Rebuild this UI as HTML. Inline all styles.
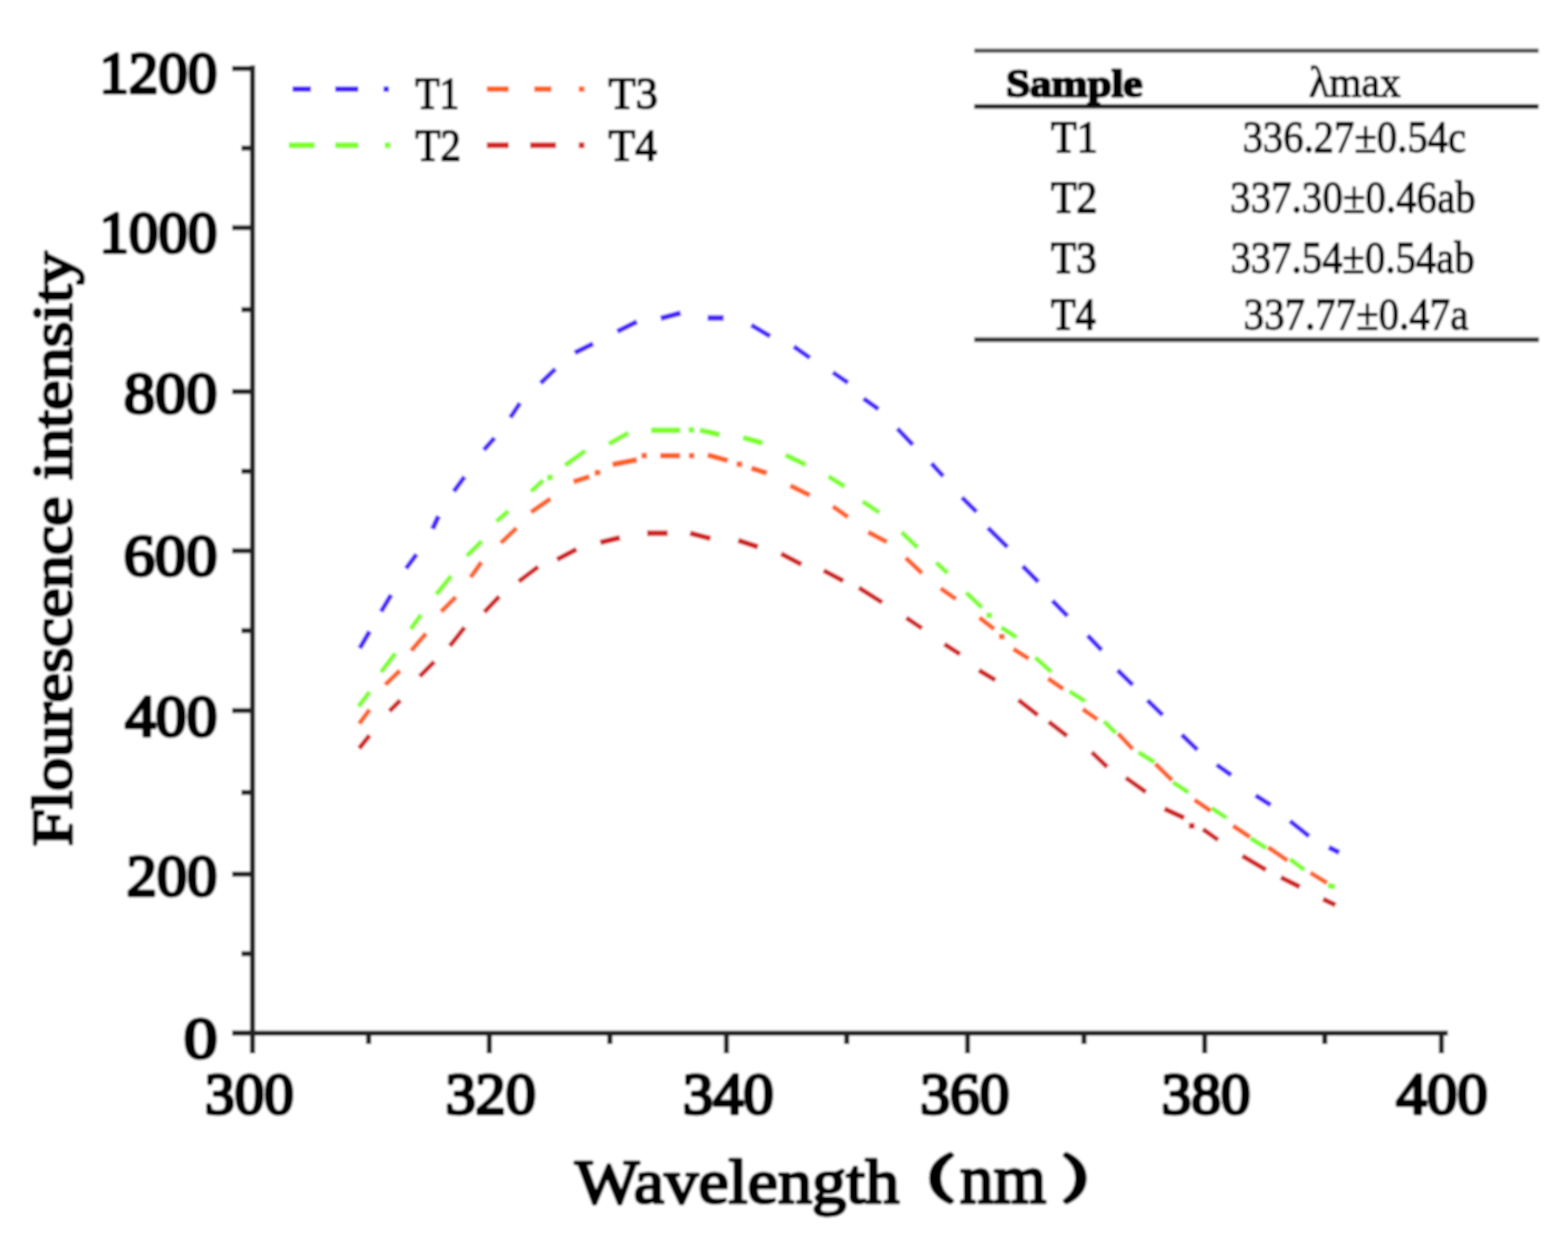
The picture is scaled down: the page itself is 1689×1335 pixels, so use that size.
<!DOCTYPE html>
<html><head><meta charset="utf-8"><title>Fluorescence spectra</title>
<style>html,body{margin:0;padding:0;background:#fff;}svg{display:block;}</style></head>
<body><svg width="1689" height="1335" viewBox="0 0 1689 1335">
<defs><filter id="soft" x="0" y="0" width="1689" height="1335" filterUnits="userSpaceOnUse"><feGaussianBlur stdDeviation="1.0"/></filter></defs>
<rect width="1689" height="1335" fill="#fff"/>
<g filter="url(#soft)">
<rect width="1689" height="1335" fill="#fff"/>
<line x1="272.0" y1="70.5" x2="272.0" y2="1135" stroke="#222222" stroke-width="5.5"/>
<line x1="250" y1="1113.3" x2="1559.5" y2="1113.3" stroke="#222222" stroke-width="5.5"/>
<line x1="250" y1="1113.3" x2="272.0" y2="1113.3" stroke="#222222" stroke-width="5.5"/>
<line x1="260" y1="1027.6" x2="272.0" y2="1027.6" stroke="#222222" stroke-width="5.5"/>
<line x1="250" y1="941.9" x2="272.0" y2="941.9" stroke="#222222" stroke-width="5.5"/>
<line x1="260" y1="853.8" x2="272.0" y2="853.8" stroke="#222222" stroke-width="5.5"/>
<line x1="250" y1="765.6" x2="272.0" y2="765.6" stroke="#222222" stroke-width="5.5"/>
<line x1="260" y1="679.5" x2="272.0" y2="679.5" stroke="#222222" stroke-width="5.5"/>
<line x1="250" y1="593.5" x2="272.0" y2="593.5" stroke="#222222" stroke-width="5.5"/>
<line x1="260" y1="507.7" x2="272.0" y2="507.7" stroke="#222222" stroke-width="5.5"/>
<line x1="250" y1="421.9" x2="272.0" y2="421.9" stroke="#222222" stroke-width="5.5"/>
<line x1="260" y1="333.6" x2="272.0" y2="333.6" stroke="#222222" stroke-width="5.5"/>
<line x1="250" y1="245.4" x2="272.0" y2="245.4" stroke="#222222" stroke-width="5.5"/>
<line x1="260" y1="159.6" x2="272.0" y2="159.6" stroke="#222222" stroke-width="5.5"/>
<line x1="250" y1="73.8" x2="272.0" y2="73.8" stroke="#222222" stroke-width="5.5"/>
<line x1="397.1" y1="1113.3" x2="397.1" y2="1125" stroke="#222222" stroke-width="5.5"/>
<line x1="527.1" y1="1113.3" x2="527.1" y2="1135" stroke="#222222" stroke-width="5.5"/>
<line x1="656.9" y1="1113.3" x2="656.9" y2="1125" stroke="#222222" stroke-width="5.5"/>
<line x1="782.5" y1="1113.3" x2="782.5" y2="1135" stroke="#222222" stroke-width="5.5"/>
<line x1="912.1" y1="1113.3" x2="912.1" y2="1125" stroke="#222222" stroke-width="5.5"/>
<line x1="1042.3" y1="1113.3" x2="1042.3" y2="1135" stroke="#222222" stroke-width="5.5"/>
<line x1="1167.6" y1="1113.3" x2="1167.6" y2="1125" stroke="#222222" stroke-width="5.5"/>
<line x1="1297.6" y1="1113.3" x2="1297.6" y2="1135" stroke="#222222" stroke-width="5.5"/>
<line x1="1427.0" y1="1113.3" x2="1427.0" y2="1125" stroke="#222222" stroke-width="5.5"/>
<line x1="1552.6" y1="1113.3" x2="1552.6" y2="1135" stroke="#222222" stroke-width="5.5"/>
<text x="198.0" y="1139.7" font-family='"Liberation Serif", serif' font-weight="normal" font-size="62.7" textLength="36.2" lengthAdjust="spacingAndGlyphs" fill="#000"  stroke="#000" stroke-width="3.6" stroke-linejoin="round">0</text>
<text x="136.6" y="964.5" font-family='"Liberation Serif", serif' font-weight="normal" font-size="62.7" textLength="97.3" lengthAdjust="spacingAndGlyphs" fill="#000"  stroke="#000" stroke-width="3.6" stroke-linejoin="round">200</text>
<text x="134.8" y="792.8" font-family='"Liberation Serif", serif' font-weight="normal" font-size="62.7" textLength="99.2" lengthAdjust="spacingAndGlyphs" fill="#000"  stroke="#000" stroke-width="3.6" stroke-linejoin="round">400</text>
<text x="133.2" y="620.0" font-family='"Liberation Serif", serif' font-weight="normal" font-size="62.7" textLength="100.8" lengthAdjust="spacingAndGlyphs" fill="#000"  stroke="#000" stroke-width="3.6" stroke-linejoin="round">600</text>
<text x="133.6" y="444.5" font-family='"Liberation Serif", serif' font-weight="normal" font-size="62.7" textLength="100.5" lengthAdjust="spacingAndGlyphs" fill="#000"  stroke="#000" stroke-width="3.6" stroke-linejoin="round">800</text>
<text x="106.9" y="272.3" font-family='"Liberation Serif", serif' font-weight="normal" font-size="62.7" textLength="127.0" lengthAdjust="spacingAndGlyphs" fill="#000"  stroke="#000" stroke-width="3.6" stroke-linejoin="round">1000</text>
<text x="106.9" y="100.0" font-family='"Liberation Serif", serif' font-weight="normal" font-size="62.7" textLength="127.0" lengthAdjust="spacingAndGlyphs" fill="#000"  stroke="#000" stroke-width="3.6" stroke-linejoin="round">1200</text>
<text x="220.7" y="1200.0" font-family='"Liberation Serif", serif' font-weight="normal" font-size="62.7" textLength="95.9" lengthAdjust="spacingAndGlyphs" fill="#000"  stroke="#000" stroke-width="3.6" stroke-linejoin="round">300</text>
<text x="479.9" y="1200.0" font-family='"Liberation Serif", serif' font-weight="normal" font-size="62.7" textLength="97.4" lengthAdjust="spacingAndGlyphs" fill="#000"  stroke="#000" stroke-width="3.6" stroke-linejoin="round">320</text>
<text x="735.5" y="1200.0" font-family='"Liberation Serif", serif' font-weight="normal" font-size="62.7" textLength="97.9" lengthAdjust="spacingAndGlyphs" fill="#000"  stroke="#000" stroke-width="3.6" stroke-linejoin="round">340</text>
<text x="991.2" y="1200.0" font-family='"Liberation Serif", serif' font-weight="normal" font-size="62.7" textLength="96.1" lengthAdjust="spacingAndGlyphs" fill="#000"  stroke="#000" stroke-width="3.6" stroke-linejoin="round">360</text>
<text x="1251.2" y="1200.0" font-family='"Liberation Serif", serif' font-weight="normal" font-size="62.7" textLength="95.9" lengthAdjust="spacingAndGlyphs" fill="#000"  stroke="#000" stroke-width="3.6" stroke-linejoin="round">380</text>
<text x="1504.1" y="1200.0" font-family='"Liberation Serif", serif' font-weight="normal" font-size="62.7" textLength="98.4" lengthAdjust="spacingAndGlyphs" fill="#000"  stroke="#000" stroke-width="3.6" stroke-linejoin="round">400</text>
<text x="619.2" y="1296.0" font-family='"Liberation Serif", serif' font-weight="normal" font-size="67.5" textLength="349.6" lengthAdjust="spacingAndGlyphs" fill="#000"  stroke="#000" stroke-width="3.0" stroke-linejoin="round">Wavelength</text>
<text x="0" y="0" transform="translate(77.2,911.8) rotate(-90)" font-family='"Liberation Serif", serif' font-weight="normal" font-size="61.5" textLength="640.8" lengthAdjust="spacingAndGlyphs" fill="#000" stroke="#000" stroke-width="3.0" stroke-linejoin="round">Flourescence intensity</text>
<text x="1033.8" y="1296.0" font-family='"Liberation Serif", serif' font-weight="normal" font-size="75.4" textLength="93.3" lengthAdjust="spacingAndGlyphs" fill="#000"  stroke="#000" stroke-width="3.0" stroke-linejoin="round">nm</text>
<text x="959.7" y="1289.5" font-family='"Liberation Serif", "Noto Serif CJK SC", serif' font-weight="bold" font-size="54.1" textLength="68.9" lengthAdjust="spacingAndGlyphs" fill="#000"  stroke="#000" stroke-width="5" stroke-linejoin="round">（</text>
<text x="1143.9" y="1289.5" font-family='"Liberation Serif", "Noto Serif CJK SC", serif' font-weight="bold" font-size="54.1" textLength="65.9" lengthAdjust="spacingAndGlyphs" fill="#000"  stroke="#000" stroke-width="5" stroke-linejoin="round">）</text>
<line x1="318.0" y1="96.0" x2="332.0" y2="96.0" stroke="#4822ff" stroke-width="6.0" stroke-linecap="square"/>
<line x1="364.0" y1="96.0" x2="383.0" y2="96.0" stroke="#4822ff" stroke-width="6.0" stroke-linecap="square"/>
<rect x="413.0" y="93.0" width="6.0" height="6.0" fill="#4822ff"/>
<text x="447.6" y="117.3" font-family='"Liberation Serif", serif' font-weight="normal" font-size="47.9" textLength="47.0" lengthAdjust="spacingAndGlyphs" fill="#000"  stroke="#000" stroke-width="1.8" stroke-linejoin="round">T1</text>
<line x1="314.0" y1="156.5" x2="336.0" y2="156.5" stroke="#7cff22" stroke-width="6.0" stroke-linecap="square"/>
<line x1="364.0" y1="156.5" x2="383.0" y2="156.5" stroke="#7cff22" stroke-width="6.0" stroke-linecap="square"/>
<rect x="414.5" y="153.5" width="6.0" height="6.0" fill="#7cff22"/>
<text x="447.6" y="172.8" font-family='"Liberation Serif", serif' font-weight="normal" font-size="49.2" textLength="48.9" lengthAdjust="spacingAndGlyphs" fill="#000"  stroke="#000" stroke-width="1.8" stroke-linejoin="round">T2</text>
<line x1="527.5" y1="96.0" x2="545.0" y2="96.0" stroke="#ff6220" stroke-width="6.0" stroke-linecap="square"/>
<line x1="578.6" y1="96.0" x2="591.0" y2="96.0" stroke="#ff6220" stroke-width="6.0" stroke-linecap="square"/>
<rect x="623.5" y="93.0" width="6.0" height="6.0" fill="#ff6220"/>
<text x="655.5" y="117.3" font-family='"Liberation Serif", serif' font-weight="normal" font-size="47.9" textLength="53.1" lengthAdjust="spacingAndGlyphs" fill="#000"  stroke="#000" stroke-width="1.8" stroke-linejoin="round">T3</text>
<line x1="527.5" y1="156.5" x2="545.0" y2="156.5" stroke="#d02222" stroke-width="6.0" stroke-linecap="square"/>
<line x1="574.0" y1="156.5" x2="596.0" y2="156.5" stroke="#d02222" stroke-width="6.0" stroke-linecap="square"/>
<rect x="623.5" y="153.5" width="6.0" height="6.0" fill="#d02222"/>
<text x="655.6" y="172.8" font-family='"Liberation Serif", serif' font-weight="normal" font-size="49.2" textLength="52.0" lengthAdjust="spacingAndGlyphs" fill="#000"  stroke="#000" stroke-width="1.8" stroke-linejoin="round">T4</text>
<line x1="1049.5" y1="54.6" x2="1657.3" y2="54.6" stroke="#585858" stroke-width="4.6"/>
<line x1="1049.5" y1="114.8" x2="1657.3" y2="114.8" stroke="#1e1e1e" stroke-width="5"/>
<line x1="1049.5" y1="365.9" x2="1657.6" y2="365.9" stroke="#333333" stroke-width="5"/>
<text x="1083.8" y="103.6" font-family='"Liberation Serif", serif' font-weight="bold" font-size="41.3" textLength="146.9" lengthAdjust="spacingAndGlyphs" fill="#000"  stroke="#000" stroke-width="2.5" stroke-linejoin="round">Sample</text>
<text x="1409.9" y="103.6" font-family='"Liberation Serif", serif' font-weight="normal" font-size="45.5" textLength="99.0" lengthAdjust="spacingAndGlyphs" fill="#000"  stroke="#000" stroke-width="1.3" stroke-linejoin="round">λmax</text>
<text x="1132.1" y="164.3" font-family='"Liberation Serif", serif' font-weight="normal" font-size="48.7" textLength="50.2" lengthAdjust="spacingAndGlyphs" fill="#000"  stroke="#000" stroke-width="1.8" stroke-linejoin="round">T1</text>
<text x="1338.4" y="164.3" font-family='"Liberation Serif", serif' font-weight="normal" font-size="48.6" textLength="240.8" lengthAdjust="spacingAndGlyphs" fill="#000"  stroke="#000" stroke-width="1.3" stroke-linejoin="round">336.27±0.54c</text>
<text x="1132.1" y="229.0" font-family='"Liberation Serif", serif' font-weight="normal" font-size="49.0" textLength="50.0" lengthAdjust="spacingAndGlyphs" fill="#000"  stroke="#000" stroke-width="1.8" stroke-linejoin="round">T2</text>
<text x="1325.1" y="229.0" font-family='"Liberation Serif", serif' font-weight="normal" font-size="48.9" textLength="264.5" lengthAdjust="spacingAndGlyphs" fill="#000"  stroke="#000" stroke-width="1.3" stroke-linejoin="round">337.30±0.46ab</text>
<text x="1132.1" y="294.0" font-family='"Liberation Serif", serif' font-weight="normal" font-size="49.0" textLength="49.2" lengthAdjust="spacingAndGlyphs" fill="#000"  stroke="#000" stroke-width="1.8" stroke-linejoin="round">T3</text>
<text x="1325.4" y="294.0" font-family='"Liberation Serif", serif' font-weight="normal" font-size="48.9" textLength="263.1" lengthAdjust="spacingAndGlyphs" fill="#000"  stroke="#000" stroke-width="1.3" stroke-linejoin="round">337.54±0.54ab</text>
<text x="1132.1" y="354.5" font-family='"Liberation Serif", serif' font-weight="normal" font-size="49.0" textLength="48.2" lengthAdjust="spacingAndGlyphs" fill="#000"  stroke="#000" stroke-width="1.8" stroke-linejoin="round">T4</text>
<text x="1339.6" y="354.5" font-family='"Liberation Serif", serif' font-weight="normal" font-size="48.9" textLength="242.1" lengthAdjust="spacingAndGlyphs" fill="#000"  stroke="#000" stroke-width="1.3" stroke-linejoin="round">337.77±0.47a</text>
<line x1="388.8" y1="696.2" x2="396.8" y2="682.6" stroke="#4822ff" stroke-width="5.170127924128787" stroke-linecap="square"/>
<line x1="411.8" y1="656.8" x2="420.0" y2="643.2" stroke="#4822ff" stroke-width="5.144957554275264" stroke-linecap="square"/>
<line x1="438.9" y1="610.5" x2="447.2" y2="599.2" stroke="#4822ff" stroke-width="5.0" stroke-linecap="square"/>
<line x1="467.1" y1="567.5" x2="471.2" y2="558.5" stroke="#4822ff" stroke-width="5.471529031050637" stroke-linecap="square"/>
<line x1="490.3" y1="527.5" x2="498.9" y2="515.7" stroke="#4822ff" stroke-width="5.0" stroke-linecap="square"/>
<line x1="522.9" y1="483.0" x2="531.0" y2="473.7" stroke="#4822ff" stroke-width="5.0" stroke-linecap="square"/>
<line x1="551.1" y1="447.9" x2="558.7" y2="436.4" stroke="#4822ff" stroke-width="5.002083310518597" stroke-linecap="square"/>
<line x1="584.2" y1="411.1" x2="596.4" y2="399.3" stroke="#4822ff" stroke-width="5.0" stroke-linecap="square"/>
<line x1="621.6" y1="378.8" x2="636.4" y2="371.5" stroke="#4822ff" stroke-width="5.377492735779975" stroke-linecap="square"/>
<line x1="667.4" y1="356.0" x2="683.6" y2="347.9" stroke="#4822ff" stroke-width="5.366563145999495" stroke-linecap="square"/>
<line x1="714.6" y1="342.3" x2="730.3" y2="338.0" stroke="#4822ff" stroke-width="5.796052480900054" stroke-linecap="square"/>
<line x1="765.3" y1="342.6" x2="776.4" y2="342.6" stroke="#4822ff" stroke-width="6.0" stroke-linecap="square"/>
<line x1="811.6" y1="351.6" x2="827.3" y2="361.0" stroke="#4822ff" stroke-width="5.151729671413738" stroke-linecap="square"/>
<line x1="857.2" y1="374.8" x2="870.3" y2="384.0" stroke="#4822ff" stroke-width="5.0" stroke-linecap="square"/>
<line x1="899.3" y1="402.7" x2="911.3" y2="411.0" stroke="#4822ff" stroke-width="5.0" stroke-linecap="square"/>
<line x1="932.2" y1="430.9" x2="944.2" y2="439.4" stroke="#4822ff" stroke-width="5.0" stroke-linecap="square"/>
<line x1="968.4" y1="463.6" x2="981.5" y2="477.4" stroke="#4822ff" stroke-width="5.0" stroke-linecap="square"/>
<line x1="1005.1" y1="501.1" x2="1014.3" y2="511.3" stroke="#4822ff" stroke-width="5.0" stroke-linecap="square"/>
<line x1="1038.0" y1="537.8" x2="1050.1" y2="549.7" stroke="#4822ff" stroke-width="5.0" stroke-linecap="square"/>
<line x1="1066.0" y1="570.5" x2="1083.4" y2="587.8" stroke="#4822ff" stroke-width="5.0" stroke-linecap="square"/>
<line x1="1103.4" y1="611.8" x2="1116.7" y2="625.3" stroke="#4822ff" stroke-width="5.0" stroke-linecap="square"/>
<line x1="1135.4" y1="649.1" x2="1148.1" y2="662.0" stroke="#4822ff" stroke-width="5.0" stroke-linecap="square"/>
<line x1="1173.3" y1="686.5" x2="1184.9" y2="698.7" stroke="#4822ff" stroke-width="5.0" stroke-linecap="square"/>
<line x1="1205.7" y1="723.9" x2="1218.3" y2="736.2" stroke="#4822ff" stroke-width="5.0" stroke-linecap="square"/>
<line x1="1237.8" y1="756.2" x2="1250.6" y2="768.8" stroke="#4822ff" stroke-width="5.0" stroke-linecap="square"/>
<line x1="1274.8" y1="793.4" x2="1288.0" y2="806.2" stroke="#4822ff" stroke-width="5.0" stroke-linecap="square"/>
<line x1="1312.6" y1="825.5" x2="1324.2" y2="833.7" stroke="#4822ff" stroke-width="5.0" stroke-linecap="square"/>
<line x1="1354.6" y1="858.4" x2="1366.6" y2="866.1" stroke="#4822ff" stroke-width="5.034917919338867" stroke-linecap="square"/>
<line x1="1391.5" y1="886.2" x2="1408.1" y2="899.4" stroke="#4822ff" stroke-width="5.0" stroke-linecap="square"/>
<line x1="1433.8" y1="914.2" x2="1440.1" y2="917.3" stroke="#4822ff" stroke-width="5.376215049412207" stroke-linecap="square"/>
<line x1="387.7" y1="759.3" x2="396.6" y2="747.6" stroke="#7cff22" stroke-width="5.0" stroke-linecap="square"/>
<line x1="412.0" y1="722.2" x2="424.3" y2="706.0" stroke="#7cff22" stroke-width="5.0" stroke-linecap="square"/>
<line x1="443.9" y1="675.7" x2="452.1" y2="664.4" stroke="#7cff22" stroke-width="5.0" stroke-linecap="square"/>
<line x1="471.7" y1="638.4" x2="484.5" y2="622.4" stroke="#7cff22" stroke-width="5.0" stroke-linecap="square"/>
<line x1="504.6" y1="597.3" x2="517.2" y2="584.9" stroke="#7cff22" stroke-width="5.0" stroke-linecap="square"/>
<line x1="536.7" y1="560.1" x2="545.7" y2="552.2" stroke="#7cff22" stroke-width="5.0" stroke-linecap="square"/>
<line x1="573.9" y1="527.8" x2="583.1" y2="519.4" stroke="#7cff22" stroke-width="5.0" stroke-linecap="square"/>
<rect x="589.4" y="511.5" width="6.0" height="6.0" fill="#7cff22"/>
<line x1="610.7" y1="499.9" x2="628.4" y2="487.2" stroke="#7cff22" stroke-width="5.0" stroke-linecap="square"/>
<line x1="658.2" y1="477.0" x2="674.6" y2="467.8" stroke="#7cff22" stroke-width="5.230783111728756" stroke-linecap="square"/>
<line x1="704.3" y1="463.6" x2="729.8" y2="463.6" stroke="#7cff22" stroke-width="6.0" stroke-linecap="square"/>
<rect x="741.7" y="460.2" width="6.0" height="6.0" fill="#7cff22"/>
<line x1="756.7" y1="464.0" x2="772.1" y2="467.7" stroke="#7cff22" stroke-width="5.830522223665326" stroke-linecap="square"/>
<line x1="803.2" y1="472.2" x2="818.6" y2="476.6" stroke="#7cff22" stroke-width="5.769143685844939" stroke-linecap="square"/>
<line x1="848.6" y1="491.5" x2="865.4" y2="499.6" stroke="#7cff22" stroke-width="5.396207124829572" stroke-linecap="square"/>
<line x1="894.6" y1="514.7" x2="907.6" y2="522.9" stroke="#7cff22" stroke-width="5.097840997188703" stroke-linecap="square"/>
<line x1="931.3" y1="541.7" x2="945.1" y2="550.9" stroke="#7cff22" stroke-width="5.0" stroke-linecap="square"/>
<line x1="973.0" y1="575.1" x2="986.5" y2="588.3" stroke="#7cff22" stroke-width="5.0" stroke-linecap="square"/>
<line x1="1010.2" y1="607.9" x2="1018.9" y2="615.8" stroke="#7cff22" stroke-width="5.0" stroke-linecap="square"/>
<line x1="1042.6" y1="640.2" x2="1055.9" y2="652.9" stroke="#7cff22" stroke-width="5.0" stroke-linecap="square"/>
<rect x="1062.5" y="660.0" width="6.0" height="6.0" fill="#7cff22"/>
<line x1="1080.7" y1="677.5" x2="1092.8" y2="685.2" stroke="#7cff22" stroke-width="5.044052361248293" stroke-linecap="square"/>
<line x1="1117.1" y1="710.0" x2="1130.5" y2="722.3" stroke="#7cff22" stroke-width="5.0" stroke-linecap="square"/>
<line x1="1154.2" y1="746.3" x2="1166.8" y2="754.2" stroke="#7cff22" stroke-width="5.104787984155753" stroke-linecap="square"/>
<line x1="1191.0" y1="779.0" x2="1200.0" y2="787.9" stroke="#7cff22" stroke-width="5.0" stroke-linecap="square"/>
<line x1="1228.5" y1="812.0" x2="1241.3" y2="819.9" stroke="#7cff22" stroke-width="5.121162418218912" stroke-linecap="square"/>
<line x1="1265.6" y1="844.3" x2="1278.2" y2="852.4" stroke="#7cff22" stroke-width="5.033397994858102" stroke-linecap="square"/>
<line x1="1307.1" y1="872.0" x2="1319.0" y2="879.9" stroke="#7cff22" stroke-width="5.0" stroke-linecap="square"/>
<line x1="1349.1" y1="904.4" x2="1361.9" y2="912.6" stroke="#7cff22" stroke-width="5.037420942912907" stroke-linecap="square"/>
<line x1="1391.5" y1="927.3" x2="1403.0" y2="935.8" stroke="#7cff22" stroke-width="5.0" stroke-linecap="square"/>
<line x1="1433.3" y1="954.6" x2="1435.1" y2="955.0" stroke="#7cff22" stroke-width="5.900719131534439" stroke-linecap="square"/>
<line x1="388.4" y1="777.8" x2="396.6" y2="766.7" stroke="#ff6220" stroke-width="5.0" stroke-linecap="square"/>
<line x1="416.8" y1="736.0" x2="428.9" y2="724.4" stroke="#ff6220" stroke-width="5.0" stroke-linecap="square"/>
<line x1="444.6" y1="699.1" x2="457.2" y2="684.5" stroke="#ff6220" stroke-width="5.0" stroke-linecap="square"/>
<line x1="477.0" y1="657.2" x2="489.2" y2="645.1" stroke="#ff6220" stroke-width="5.0" stroke-linecap="square"/>
<line x1="508.4" y1="620.0" x2="517.1" y2="607.8" stroke="#ff6220" stroke-width="5.0" stroke-linecap="square"/>
<line x1="541.3" y1="583.3" x2="554.6" y2="570.7" stroke="#ff6220" stroke-width="5.0" stroke-linecap="square"/>
<line x1="574.1" y1="550.4" x2="590.9" y2="538.8" stroke="#ff6220" stroke-width="5.0" stroke-linecap="square"/>
<line x1="620.5" y1="518.2" x2="632.2" y2="514.5" stroke="#ff6220" stroke-width="5.731038735883727" stroke-linecap="square"/>
<rect x="640.6" y="506.3" width="6.0" height="6.0" fill="#ff6220"/>
<line x1="662.7" y1="500.0" x2="683.1" y2="496.0" stroke="#ff6220" stroke-width="5.885205604528063" stroke-linecap="square"/>
<rect x="690.9" y="487.9" width="6.0" height="6.0" fill="#ff6220"/>
<line x1="714.2" y1="491.0" x2="729.5" y2="491.0" stroke="#ff6220" stroke-width="6.0" stroke-linecap="square"/>
<rect x="742.0" y="488.0" width="6.0" height="6.0" fill="#ff6220"/>
<line x1="765.1" y1="491.1" x2="781.1" y2="495.5" stroke="#ff6220" stroke-width="5.781107457779644" stroke-linecap="square"/>
<rect x="793.5" y="497.2" width="6.0" height="6.0" fill="#ff6220"/>
<line x1="812.1" y1="505.3" x2="823.2" y2="508.9" stroke="#ff6220" stroke-width="5.702382774268129" stroke-linecap="square"/>
<line x1="853.7" y1="524.5" x2="869.9" y2="532.5" stroke="#ff6220" stroke-width="5.376765514730322" stroke-linecap="square"/>
<line x1="899.2" y1="547.1" x2="911.4" y2="555.7" stroke="#ff6220" stroke-width="5.0" stroke-linecap="square"/>
<line x1="937.5" y1="574.6" x2="953.0" y2="582.8" stroke="#ff6220" stroke-width="5.285357539610829" stroke-linecap="square"/>
<line x1="977.5" y1="602.9" x2="991.3" y2="615.9" stroke="#ff6220" stroke-width="5.0" stroke-linecap="square"/>
<line x1="1015.2" y1="635.4" x2="1027.7" y2="644.1" stroke="#ff6220" stroke-width="5.0" stroke-linecap="square"/>
<line x1="1057.0" y1="667.1" x2="1068.8" y2="676.2" stroke="#ff6220" stroke-width="5.0" stroke-linecap="square"/>
<rect x="1076.1" y="683.0" width="6.0" height="6.0" fill="#ff6220"/>
<line x1="1093.8" y1="700.6" x2="1105.9" y2="708.2" stroke="#ff6220" stroke-width="5.058132041167705" stroke-linecap="square"/>
<line x1="1131.0" y1="732.5" x2="1143.3" y2="741.0" stroke="#ff6220" stroke-width="5.0" stroke-linecap="square"/>
<line x1="1168.4" y1="765.6" x2="1180.1" y2="773.8" stroke="#ff6220" stroke-width="5.0" stroke-linecap="square"/>
<line x1="1206.1" y1="792.2" x2="1218.4" y2="805.3" stroke="#ff6220" stroke-width="5.0" stroke-linecap="square"/>
<line x1="1246.3" y1="824.7" x2="1260.7" y2="839.0" stroke="#ff6220" stroke-width="5.0" stroke-linecap="square"/>
<line x1="1288.8" y1="863.3" x2="1301.9" y2="872.2" stroke="#ff6220" stroke-width="5.0" stroke-linecap="square"/>
<line x1="1330.3" y1="891.2" x2="1344.3" y2="900.5" stroke="#ff6220" stroke-width="5.0" stroke-linecap="square"/>
<line x1="1368.1" y1="914.4" x2="1384.8" y2="925.8" stroke="#ff6220" stroke-width="5.0" stroke-linecap="square"/>
<line x1="1413.8" y1="941.8" x2="1427.2" y2="950.1" stroke="#ff6220" stroke-width="5.074987949810078" stroke-linecap="square"/>
<line x1="388.5" y1="804.4" x2="396.5" y2="794.3" stroke="#d02222" stroke-width="5.0" stroke-linecap="square"/>
<line x1="421.3" y1="764.5" x2="429.4" y2="756.4" stroke="#d02222" stroke-width="5.0" stroke-linecap="square"/>
<line x1="453.9" y1="726.9" x2="466.0" y2="714.8" stroke="#d02222" stroke-width="5.0" stroke-linecap="square"/>
<line x1="486.2" y1="694.1" x2="498.9" y2="677.9" stroke="#d02222" stroke-width="5.0" stroke-linecap="square"/>
<line x1="523.5" y1="657.7" x2="536.0" y2="644.6" stroke="#d02222" stroke-width="5.0" stroke-linecap="square"/>
<line x1="560.8" y1="625.0" x2="577.7" y2="612.3" stroke="#d02222" stroke-width="5.0" stroke-linecap="square"/>
<line x1="602.4" y1="601.7" x2="618.6" y2="593.2" stroke="#d02222" stroke-width="5.325375293311461" stroke-linecap="square"/>
<line x1="649.5" y1="583.8" x2="664.9" y2="580.0" stroke="#d02222" stroke-width="5.824103172384943" stroke-linecap="square"/>
<line x1="700.0" y1="574.5" x2="716.2" y2="574.5" stroke="#d02222" stroke-width="6.0" stroke-linecap="square"/>
<line x1="746.2" y1="575.2" x2="762.5" y2="579.5" stroke="#d02222" stroke-width="5.806547422532859" stroke-linecap="square"/>
<line x1="798.0" y1="583.2" x2="813.6" y2="588.3" stroke="#d02222" stroke-width="5.700190494242933" stroke-linecap="square"/>
<line x1="843.8" y1="597.9" x2="860.9" y2="606.9" stroke="#d02222" stroke-width="5.3221066444407095" stroke-linecap="square"/>
<line x1="889.6" y1="616.0" x2="906.0" y2="624.7" stroke="#d02222" stroke-width="5.2836342816219934" stroke-linecap="square"/>
<line x1="927.4" y1="634.6" x2="948.1" y2="647.7" stroke="#d02222" stroke-width="5.056945263804395" stroke-linecap="square"/>
<line x1="978.4" y1="667.0" x2="991.0" y2="675.6" stroke="#d02222" stroke-width="5.0" stroke-linecap="square"/>
<line x1="1019.4" y1="695.4" x2="1032.0" y2="703.5" stroke="#d02222" stroke-width="5.033397994858102" stroke-linecap="square"/>
<line x1="1056.7" y1="723.5" x2="1069.9" y2="731.4" stroke="#d02222" stroke-width="5.152691043973325" stroke-linecap="square"/>
<line x1="1099.0" y1="755.7" x2="1115.9" y2="768.9" stroke="#d02222" stroke-width="5.0" stroke-linecap="square"/>
<line x1="1131.7" y1="779.3" x2="1147.4" y2="791.5" stroke="#d02222" stroke-width="5.0" stroke-linecap="square"/>
<line x1="1177.9" y1="812.2" x2="1190.8" y2="824.6" stroke="#d02222" stroke-width="5.0" stroke-linecap="square"/>
<line x1="1214.8" y1="839.5" x2="1232.2" y2="851.9" stroke="#d02222" stroke-width="5.0" stroke-linecap="square"/>
<line x1="1256.9" y1="872.7" x2="1273.1" y2="880.2" stroke="#d02222" stroke-width="5.456012433964579" stroke-linecap="square"/>
<rect x="1280.7" y="886.8" width="6.0" height="6.0" fill="#d02222"/>
<line x1="1297.8" y1="894.9" x2="1310.0" y2="903.5" stroke="#d02222" stroke-width="5.0" stroke-linecap="square"/>
<line x1="1340.5" y1="923.5" x2="1361.4" y2="936.0" stroke="#d02222" stroke-width="5.152130957573359" stroke-linecap="square"/>
<line x1="1382.2" y1="946.6" x2="1397.6" y2="954.3" stroke="#d02222" stroke-width="5.366563145999495" stroke-linecap="square"/>
<line x1="1427.7" y1="969.9" x2="1436.0" y2="973.9" stroke="#d02222" stroke-width="5.39102765602555" stroke-linecap="square"/>
</g>
</svg></body></html>
